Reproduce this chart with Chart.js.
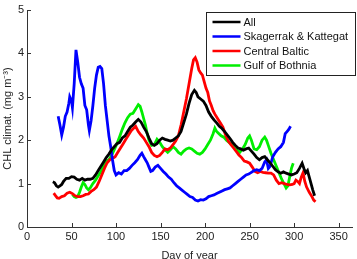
<!DOCTYPE html>
<html>
<head>
<meta charset="utf-8">
<script src="https://cdn.jsdelivr.net/npm/chart.js@4"></script>
<style>
  html, body { margin: 0; padding: 0; background: #fff; }
  #wrap { width: 357px; height: 259px; }
</style>
</head>
<body>
<div id="wrap"><canvas id="chlchart" width="357" height="259"></canvas></div>
<script>
// values (day of year -> CHL in mg m^-3)
const allDays = [29,31,33,35,37,39,41,44,47,50,53,56,59,62,65,68,71,74,77,80,83,86,89,92,95,98,101,104,107,110,113,116,119,122,125,128,131,134,137,140,143,146,149,152,155,158,161,164,167,170,173,176,179,182,185,188,190,192,195,198,201,204,207,210,213,216,219,222,225,228,231,234,237,240,243,246,249,252,255,258,261,264,267,270,273,276,279,282,285,288,291,294,297,300,303,306,309,311,313,315,317,319,321,323];
const allValues = [1.04,1.02,0.95,0.92,0.95,0.98,1.05,1.12,1.12,1.16,1.15,1.1,1.08,1.12,1.08,1.1,1.1,1.12,1.2,1.3,1.4,1.5,1.6,1.68,1.78,1.85,1.92,1.95,2.05,2.1,2.2,2.3,2.35,2.42,2.48,2.42,2.3,2.2,2.05,1.92,1.88,1.92,2.0,2.05,2.02,2.0,1.98,2.0,2.05,2.1,2.2,2.4,2.6,2.85,3.05,3.15,3.1,3.0,2.95,2.9,2.8,2.65,2.55,2.47,2.4,2.32,2.27,2.2,2.12,2.04,1.95,1.88,1.82,1.8,1.77,1.8,1.82,1.75,1.68,1.6,1.55,1.6,1.62,1.55,1.48,1.4,1.32,1.27,1.24,1.27,1.24,1.22,1.2,1.22,1.25,1.35,1.47,1.35,1.25,1.3,1.15,1.0,0.85,0.72];

const skagDays = [35,37,39,41,43,45,47,48,50,51,53,55,57,59,61,63,65,67,69,70,72,74,76,78,80,82,84,86,88,90,92,94,96,98,100,103,106,109,112,115,118,121,124,127,129,131,133,135,137,139,141,144,147,150,153,156,159,162,165,168,171,174,177,180,183,186,189,192,195,198,201,204,207,210,213,216,219,222,225,228,231,234,237,240,243,246,249,252,255,258,261,264,267,269,271,273,276,279,282,285,288,290,292,294,296];
const skagValues = [2.55,2.35,2.12,2.3,2.55,2.65,2.85,3.0,2.9,2.75,3.3,4.08,3.8,3.45,3.3,3.2,2.8,2.7,2.35,2.22,2.45,2.8,3.2,3.5,3.68,3.7,3.65,3.3,2.8,2.45,2.1,1.85,1.55,1.3,1.2,1.25,1.22,1.3,1.3,1.35,1.42,1.48,1.55,1.65,1.7,1.62,1.55,1.48,1.38,1.28,1.3,1.38,1.42,1.35,1.28,1.22,1.15,1.1,1.02,0.95,0.9,0.85,0.8,0.75,0.7,0.68,0.62,0.6,0.63,0.62,0.65,0.7,0.72,0.74,0.77,0.8,0.83,0.86,0.88,0.9,0.95,1.0,1.05,1.1,1.15,1.2,1.22,1.26,1.3,1.32,1.3,1.35,1.5,1.55,1.35,1.4,1.62,1.72,1.8,1.85,1.95,2.15,2.2,2.25,2.32];

const balticDays = [30,32,34,36,39,42,45,48,51,54,57,60,63,66,69,72,75,78,81,84,87,90,93,96,99,102,105,108,111,114,117,120,122,125,128,131,134,137,140,143,146,149,152,155,158,161,164,167,170,173,176,179,182,185,187,189,191,193,195,197,199,201,203,205,207,209,211,214,217,220,223,226,229,232,235,238,241,244,247,250,253,256,259,262,265,268,271,274,277,280,283,286,289,292,295,298,300,302,304,306,308,310,312,314,317,320,322,324];
const balticValues = [0.78,0.72,0.67,0.66,0.7,0.72,0.78,0.8,0.77,0.72,0.7,0.7,0.72,0.75,0.76,0.82,0.86,0.92,1.05,1.2,1.35,1.48,1.55,1.58,1.62,1.72,1.82,1.92,2.02,2.12,2.22,2.28,2.32,2.2,2.12,2.05,1.95,1.85,1.72,1.65,1.62,1.65,1.72,1.8,1.78,1.82,1.9,1.98,2.1,2.35,2.65,2.95,3.3,3.65,3.85,3.9,3.8,3.62,3.55,3.5,3.35,3.2,3.1,2.9,2.8,2.68,2.6,2.5,2.4,2.3,2.12,1.98,1.9,1.82,1.74,1.66,1.6,1.52,1.5,1.47,1.38,1.28,1.25,1.28,1.26,1.25,1.24,1.24,1.2,1.08,1.0,1.02,1.0,0.98,0.97,0.98,1.0,1.08,1.05,1.0,1.15,1.25,1.05,0.92,0.8,0.7,0.62,0.58];

const bothniaDays = [51,53,55,57,59,61,63,65,67,69,71,74,77,80,83,86,89,92,95,98,101,104,107,110,113,116,119,122,125,127,129,131,133,135,137,140,143,146,149,152,155,158,161,164,167,170,173,176,179,182,185,188,191,194,197,200,203,206,209,211,213,215,218,221,224,227,230,233,236,239,242,245,248,250,252,255,258,261,264,267,269,271,274,277,280,283,286,289,291,293,295,297,299];
const bothniaValues = [0.75,0.7,0.68,0.7,0.8,0.92,1.02,0.98,0.9,0.86,0.9,1.0,1.08,1.18,1.28,1.42,1.52,1.55,1.65,1.78,1.92,2.08,2.25,2.4,2.52,2.6,2.62,2.72,2.82,2.78,2.65,2.5,2.35,2.15,2.0,1.88,1.9,2.02,1.95,1.85,1.78,1.72,1.78,1.85,1.8,1.72,1.68,1.75,1.8,1.82,1.8,1.75,1.7,1.68,1.72,1.8,1.9,2.0,2.15,2.28,2.2,2.16,2.1,2.07,2.0,1.95,1.9,1.82,1.77,1.72,1.8,1.9,2.05,2.1,2.0,1.8,1.78,1.85,2.0,2.07,2.0,1.88,1.7,1.55,1.4,1.25,1.1,0.98,0.9,0.95,1.15,1.35,1.47];

const seriesNames = ['All', 'Skagerrak & Kattegat', 'Central Baltic', 'Gulf of Bothnia'];
const seriesColors = ['#000000', '#0000ff', '#ff0000', '#00ee00'];
const xTicks = [0, 50, 100, 150, 200, 250, 300, 350];
const yTicks = [0, 1, 2, 3, 4, 5];

const toPoints = (days, values) => days.map((d, i) => ({ x: d, y: values[i] }));
const seriesData = [
  toPoints(allDays, allValues),
  toPoints(skagDays, skagValues),
  toPoints(balticDays, balticValues),
  toPoints(bothniaDays, bothniaValues),
];

const FONT = { family: "'Liberation Sans', Arial, sans-serif", size: 11 };

// matlab style ticks pointing into the plot
const inwardTicks = {
  id: 'inwardTicks',
  afterDraw(chart) {
    const { ctx, scales: { x, y } } = chart;
    ctx.save();
    ctx.strokeStyle = '#333';
    ctx.lineWidth = 1;
    ctx.beginPath();
    xTicks.forEach((v) => {
      const px = Math.round(x.getPixelForValue(v)) + 0.5;
      ctx.moveTo(px, y.bottom);
      ctx.lineTo(px, y.bottom - 4);
    });
    yTicks.forEach((v) => {
      const py = Math.round(y.getPixelForValue(v)) + 0.5;
      ctx.moveTo(x.left, py);
      ctx.lineTo(x.left + 4, py);
    });
    ctx.stroke();
    ctx.restore();
  },
};

// boxed legend in the top right corner
const boxLegend = {
  id: 'boxLegend',
  afterDraw(chart) {
    const { ctx } = chart;
    const left = 206.5, top = 12.5, w = 149, h = 63;
    ctx.save();
    ctx.fillStyle = '#fff';
    ctx.fillRect(left, top, w, h);
    ctx.strokeStyle = '#222';
    ctx.lineWidth = 1;
    ctx.strokeRect(left, top, w, h);
    ctx.font = `${FONT.size}px ${FONT.family}`;
    ctx.textBaseline = 'middle';
    chart.data.datasets.forEach((ds, i) => {
      const rowY = top + 9.5 + i * 14.5;
      ctx.strokeStyle = ds.borderColor;
      ctx.lineWidth = 2.5;
      ctx.beginPath();
      ctx.moveTo(left + 6, rowY);
      ctx.lineTo(left + 34, rowY);
      ctx.stroke();
      ctx.fillStyle = '#111';
      ctx.fillText(ds.label, left + 37, rowY + 0.5);
    });
    ctx.restore();
  },
};

new Chart(document.getElementById('chlchart'), {
  type: 'line',
  data: {
    datasets: seriesNames.map((name, i) => ({
      label: name,
      data: seriesData[i],
      borderColor: seriesColors[i],
      backgroundColor: seriesColors[i],
      borderWidth: 2.8,
      pointRadius: 0,
      tension: 0,
      fill: false,
    })),
  },
  options: {
    responsive: false,
    animation: false,
    layout: { padding: { top: 10, right: 5, left: 0, bottom: 0 } },
    plugins: {
      legend: { display: false },
      tooltip: { enabled: false },
    },
    scales: {
      x: {
        type: 'linear',
        min: 0,
        max: 365,
        afterBuildTicks: (axis) => { axis.ticks = xTicks.map((v) => ({ value: v })); },
        afterFit: (axis) => { axis.height = 32; },
        grid: { display: false, drawTicks: false },
        border: { display: true, color: '#333', width: 1 },
        ticks: { color: '#222', font: FONT, padding: 3, maxRotation: 0 },
        title: { display: true, text: 'Day of year', color: '#222', font: FONT, padding: { top: 0, bottom: -4 } },
      },
      y: {
        min: 0,
        max: 5,
        afterBuildTicks: (axis) => { axis.ticks = yTicks.map((v) => ({ value: v })); },
        afterFit: (axis) => { axis.width = 27; },
        grid: { display: false, drawTicks: false },
        border: { display: true, color: '#333', width: 1 },
        ticks: { color: '#222', font: FONT, padding: 3 },
        title: { display: true, text: 'CHL climat. (mg m\u207B\u00B3)', color: '#222', font: FONT, padding: { top: 1, bottom: 0 } },
      },
    },
  },
  plugins: [inwardTicks, boxLegend],
});
</script>
</body>
</html>
